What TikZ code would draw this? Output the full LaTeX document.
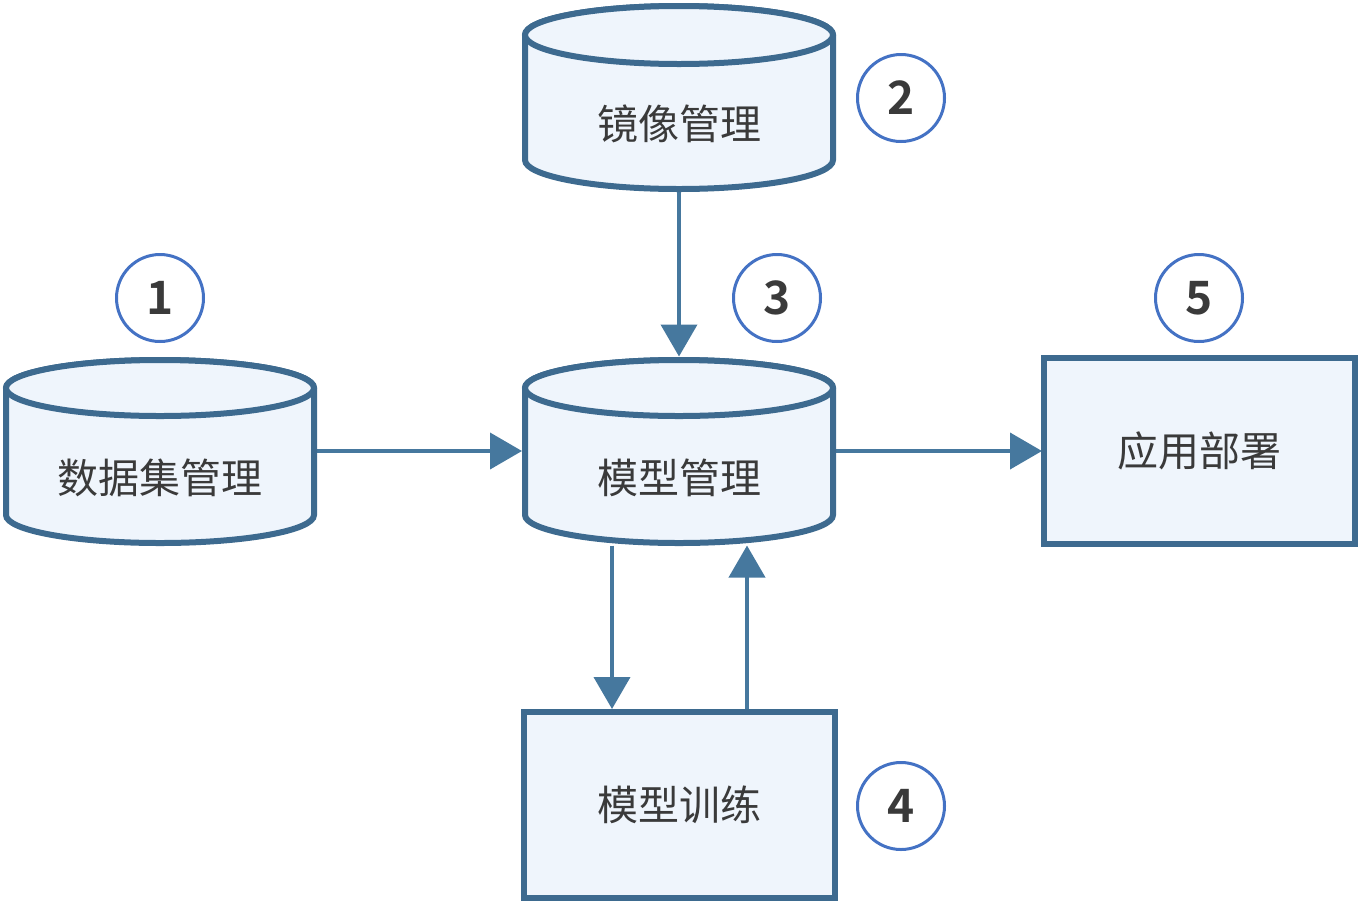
\documentclass[tikz,border=0pt]{standalone}
\usepackage{fontspec}
\setmainfont{Noto Sans CJK SC}[BoldFont={Noto Sans CJK SC Bold}]
\usepackage{tikz}
\usetikzlibrary{arrows.meta}

\definecolor{edgeblue}{HTML}{3D6A8F}
\definecolor{arrowblue}{HTML}{46789E}
\definecolor{fillblue}{HTML}{EFF5FC}
\definecolor{ringblue}{HTML}{4472C4}
\definecolor{textgray}{HTML}{3A3A3A}

\tikzset{
  shell/.style={draw=edgeblue, fill=fillblue, line width=6pt},
  slot/.style={minimum width=314pt, minimum height=189pt, inner sep=0pt, outer sep=0pt},
  boxnode/.style={shell, minimum width=311pt, minimum height=186pt, inner sep=0pt,
    font=\fontsize{41}{45}\selectfont, text=textgray},
  lbl/.style={font=\fontsize{41}{45}\selectfont, text=textgray},
  badge/.style={circle, draw=ringblue, line width=3pt, minimum size=87pt, inner sep=0pt,
    font=\fontsize{46}{50}\selectfont\bfseries, text=textgray},
  flow/.style={draw=arrowblue, line width=4pt, -{Triangle[length=32pt,width=36pt]}}
}

\begin{document}
\begin{tikzpicture}[x=1pt,y=1pt]
  \useasboundingbox (0,0) rectangle (1359,-903);

  % Cylinder slots (for connectors)
  \node[slot] (data) at (160,-451) {};
  \node[slot] (image) at (679,-97) {};
  \node[slot] (model) at (679,-451) {};

  % Connectors (under the shapes)
  \draw[flow] (data.east) -- (model.west);
  \draw[flow] (model.east) -- (1042,-451) coordinate (deployin);
  \draw[flow] (image.south) -- (model.north);

  % Cylinders
  \draw[shell] (6,-388) -- (6,-515) arc[start angle=180, end angle=360, x radius=154, y radius=28]
    -- (314,-388) arc[start angle=0, end angle=180, x radius=154, y radius=28] -- cycle;
  \draw[shell] (160,-388) ellipse[x radius=154, y radius=28];

  \draw[shell] (525,-35) -- (525,-160) arc[start angle=180, end angle=360, x radius=154, y radius=29]
    -- (833,-35) arc[start angle=0, end angle=180, x radius=154, y radius=29] -- cycle;
  \draw[shell] (679,-35) ellipse[x radius=154, y radius=29];

  \draw[shell] (525,-388) -- (525,-515) arc[start angle=180, end angle=360, x radius=154, y radius=28]
    -- (833,-388) arc[start angle=0, end angle=180, x radius=154, y radius=28] -- cycle;
  \draw[shell] (679,-388) ellipse[x radius=154, y radius=28];

  \node[lbl] at ([yshift=-27pt]data.center) {数据集管理};
  \node[lbl] at ([yshift=-27pt]image.center) {镜像管理};
  \node[lbl] at ([yshift=-27pt]model.center) {模型管理};

  % Boxes
  \node[boxnode] (train) at (679.5,-805) {模型训练};
  \node[boxnode] (deploy) at (1199.5,-451) {应用部署};

  % Training loop
  \draw[flow] ([xshift=-67pt]model.south) -- ([xshift=-67.5pt]train.north);
  \draw[flow] ([xshift=67.5pt]train.north) -- ([xshift=68pt]model.south);

  % Step numbers
  \node[badge] (n1) at (160,-298) {1};
  \node[badge] (n2) at (901,-98) {2};
  \node[badge] (n3) at (777,-298) {3};
  \node[badge] (n4) at (901,-806) {4};
  \node[badge] (n5) at (1199,-298) {5};
\end{tikzpicture}
\end{document}
